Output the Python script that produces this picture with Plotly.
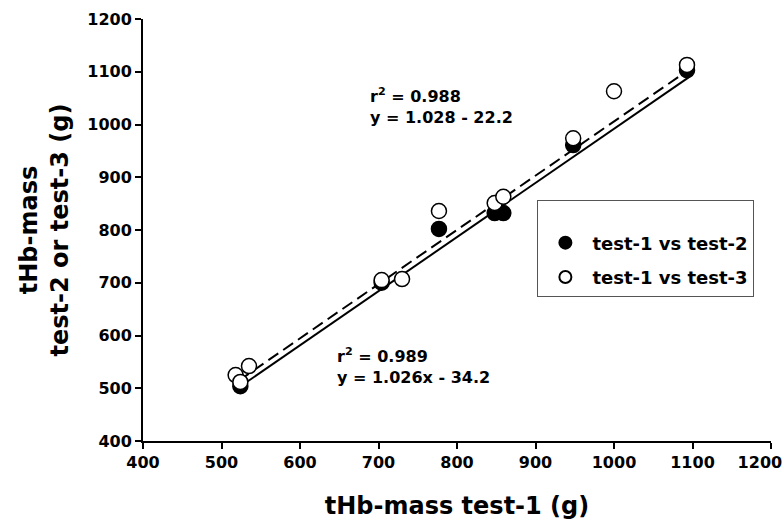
import plotly.graph_objects as go

# data
t1_a = [524, 704, 777, 848, 859, 948, 1093]
t2 = [504, 700, 802, 832, 832, 961, 1103]
t1_b = [518, 524, 535, 704, 730, 777, 848, 859, 948, 1000, 1093]
t3 = [525, 512, 542, 705, 707, 836, 851, 863, 974, 1063, 1113]

fit_x = [522, 1096]
fit2 = (1.026, -34.2)   # test-2 regression
fit3 = (1.028, -22.2)   # test-3 regression

ticks = list(range(400, 1201, 100))
tick_text = [str(v) for v in ticks[:-1]] + ["1200<span style='color:rgba(0,0,0,0)'>00</span>"]

FONT = "DejaVu Sans, sans-serif"

fig = go.Figure()
fig.add_trace(go.Scatter(x=fit_x, y=[fit2[0] * v + fit2[1] for v in fit_x], mode="lines",
                         line=dict(color="black", width=2), showlegend=False))
fig.add_trace(go.Scatter(x=fit_x, y=[fit3[0] * v + fit3[1] for v in fit_x], mode="lines",
                         line=dict(color="black", width=2, dash="12px,6px"), showlegend=False))
fig.add_trace(go.Scatter(x=t1_a, y=t2, mode="markers", name="test-1 vs test-2", legendgroup="a",
                         marker=dict(size=15, color="black", line=dict(color="black", width=1.5))))
fig.add_trace(go.Scatter(x=t1_b, y=t3, mode="markers", name="test-1 vs test-3", legendgroup="b",
                         marker=dict(size=15, color="white", line=dict(color="black", width=1.5))))

ann_font = dict(family=FONT, size=16, color="black", weight="bold")
fig.add_annotation(x=687, y=1078, xanchor="left", yanchor="top", showarrow=False, align="left",
                   text="r<sup>2</sup> = 0.988<br>y = 1.028 - 22.2", font=ann_font)
fig.add_annotation(x=645, y=585, xanchor="left", yanchor="top", showarrow=False, align="left",
                   text="r<sup>2</sup> = 0.989<br>y = 1.026x - 34.2", font=ann_font)

axis_common = dict(showline=True, linecolor="black", linewidth=2, ticks="outside", ticklen=6,
                   tickwidth=2, tickcolor="black", showgrid=False, zeroline=False,
                   tickfont=dict(family=FONT, size=16, color="black", weight="bold"),
                   range=[400, 1200], tickvals=ticks, ticklabeloverflow="allow")
title_font = dict(family=FONT, size=24, color="black", weight="bold")

fig.update_layout(
    width=783, height=524,
    margin=dict(l=143, r=12, t=19, b=83),
    plot_bgcolor="white", paper_bgcolor="white",
    font=dict(family=FONT, color="black"),
    xaxis=dict(title=dict(text="tHb-mass test-1 (g)", font=title_font, standoff=26),
               automargin=False, **axis_common),
    yaxis=dict(title=dict(text="tHb-mass<br>test-2 or test-3 (g)", font=title_font, standoff=12),
               automargin=False, **axis_common),
    legend=dict(x=0.628, y=0.571, xanchor="left", yanchor="top", bordercolor="#555", borderwidth=1,
                bgcolor="white", font=dict(family=FONT, size=18, color="black", weight="bold"),
                itemsizing="constant", tracegroupgap=8, itemwidth=44,
                title=dict(text=" ", font=dict(size=18))),
)
fig.layout.xaxis.ticktext = tick_text

fig.write_html("out.html")
